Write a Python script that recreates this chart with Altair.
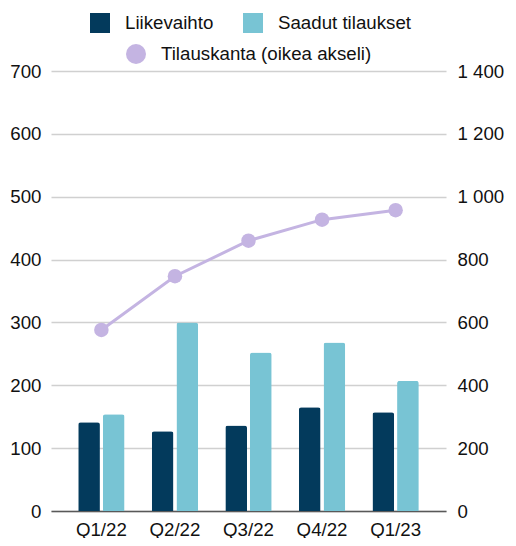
import altair as alt
import pandas as pd

quarters = ["Q1/22", "Q2/22", "Q3/22", "Q4/22", "Q1/23"]
liikevaihto = [141, 127, 136, 165, 157]
saadut = [154, 300, 252, 268, 207]
tilauskanta = [576, 747, 860, 927, 957]

bar_series = ["Liikevaihto", "Saadut tilaukset"]
line_series = "Tilauskanta (oikea akseli)"

rows = []
for q, a, b in zip(quarters, liikevaihto, saadut):
    rows.append({"q": q, "series": bar_series[0], "v": a})
    rows.append({"q": q, "series": bar_series[1], "v": b})
bars_df = pd.DataFrame(rows)
line_df = pd.DataFrame({"q": quarters, "v": tilauskanta, "series": [line_series] * len(quarters)})

FONT = "Liberation Sans"
FS = 18.7

x_enc = alt.X(
    "q:N", sort=quarters, title=None,
    scale=alt.Scale(paddingInner=0.37, paddingOuter=0.37),
    axis=alt.Axis(labelAngle=0, ticks=False, domainColor="#595959", domainWidth=1.5,
                  labelPadding=9, labelFontSize=FS, labelFont=FONT, labelColor="#111"),
)

bars = alt.Chart(bars_df).mark_bar(cornerRadiusTopLeft=2.5, cornerRadiusTopRight=2.5).encode(
    x=x_enc,
    xOffset=alt.XOffset("series:N", sort=bar_series, scale=alt.Scale(paddingInner=0.12)),
    y=alt.Y("v:Q", title=None,
            scale=alt.Scale(domain=[0, 700], nice=False),
            axis=alt.Axis(values=[0, 100, 200, 300, 400, 500, 600, 700], ticks=False, domain=False,
                          gridColor="#d0d0d0", gridWidth=1.5, labelPadding=10,
                          labelFontSize=FS, labelFont=FONT, labelColor="#111", orient="left")),
    color=alt.Color("series:N", sort=bar_series,
                    scale=alt.Scale(domain=bar_series, range=["#033A5C", "#78C4D4"]),
                    legend=alt.Legend(title=None, orient="none", legendX=39, legendY=-58,
                                      direction="horizontal", columns=2, symbolType="square",
                                      symbolSize=400, symbolStrokeWidth=0, labelOffset=15,
                                      columnPadding=29, padding=0, labelLimit=300,
                                      labelFontSize=FS, labelFont=FONT, labelColor="#111")),
)

y_right = alt.Y("v:Q", title=None,
                scale=alt.Scale(domain=[0, 1400], nice=False),
                axis=alt.Axis(values=[0, 200, 400, 600, 800, 1000, 1200, 1400], ticks=False, domain=False,
                              grid=False, labelPadding=11, orient="right",
                              labelExpr="replace(format(datum.value, ','), ',', ' ')",
                              labelFontSize=FS, labelFont=FONT, labelColor="#111"))

line = alt.Chart(line_df).mark_line(color="#C4B4E2", strokeWidth=3).encode(
    x=alt.X("q:N", sort=quarters),
    y=y_right,
)

points = alt.Chart(line_df).mark_point(filled=True, opacity=1, size=210).encode(
    x=alt.X("q:N", sort=quarters),
    y=alt.Y("v:Q", scale=alt.Scale(domain=[0, 1400], nice=False)),
    color=alt.Color("series:N",
                    scale=alt.Scale(domain=[line_series], range=["#C4B4E2"]),
                    legend=alt.Legend(title=None, orient="none", legendX=75, legendY=-27,
                                      direction="horizontal", symbolType="circle",
                                      symbolSize=400, symbolStrokeWidth=0, labelOffset=15,
                                      padding=0, labelLimit=300, labelFontSize=FS, labelFont=FONT,
                                      labelColor="#111")),
)

right = alt.layer(line, points)

chart = alt.layer(bars, right).resolve_scale(
    y="independent", color="independent"
).properties(
    width=395, height=440,
    autosize=alt.AutoSizeParams(type="none"),
    padding={"left": 43, "top": 63, "right": 62, "bottom": 27},
    background="white",
).configure(font=FONT).configure_view(stroke=None)

chart.save("out.html", embed_options={"renderer": "svg", "actions": False})
